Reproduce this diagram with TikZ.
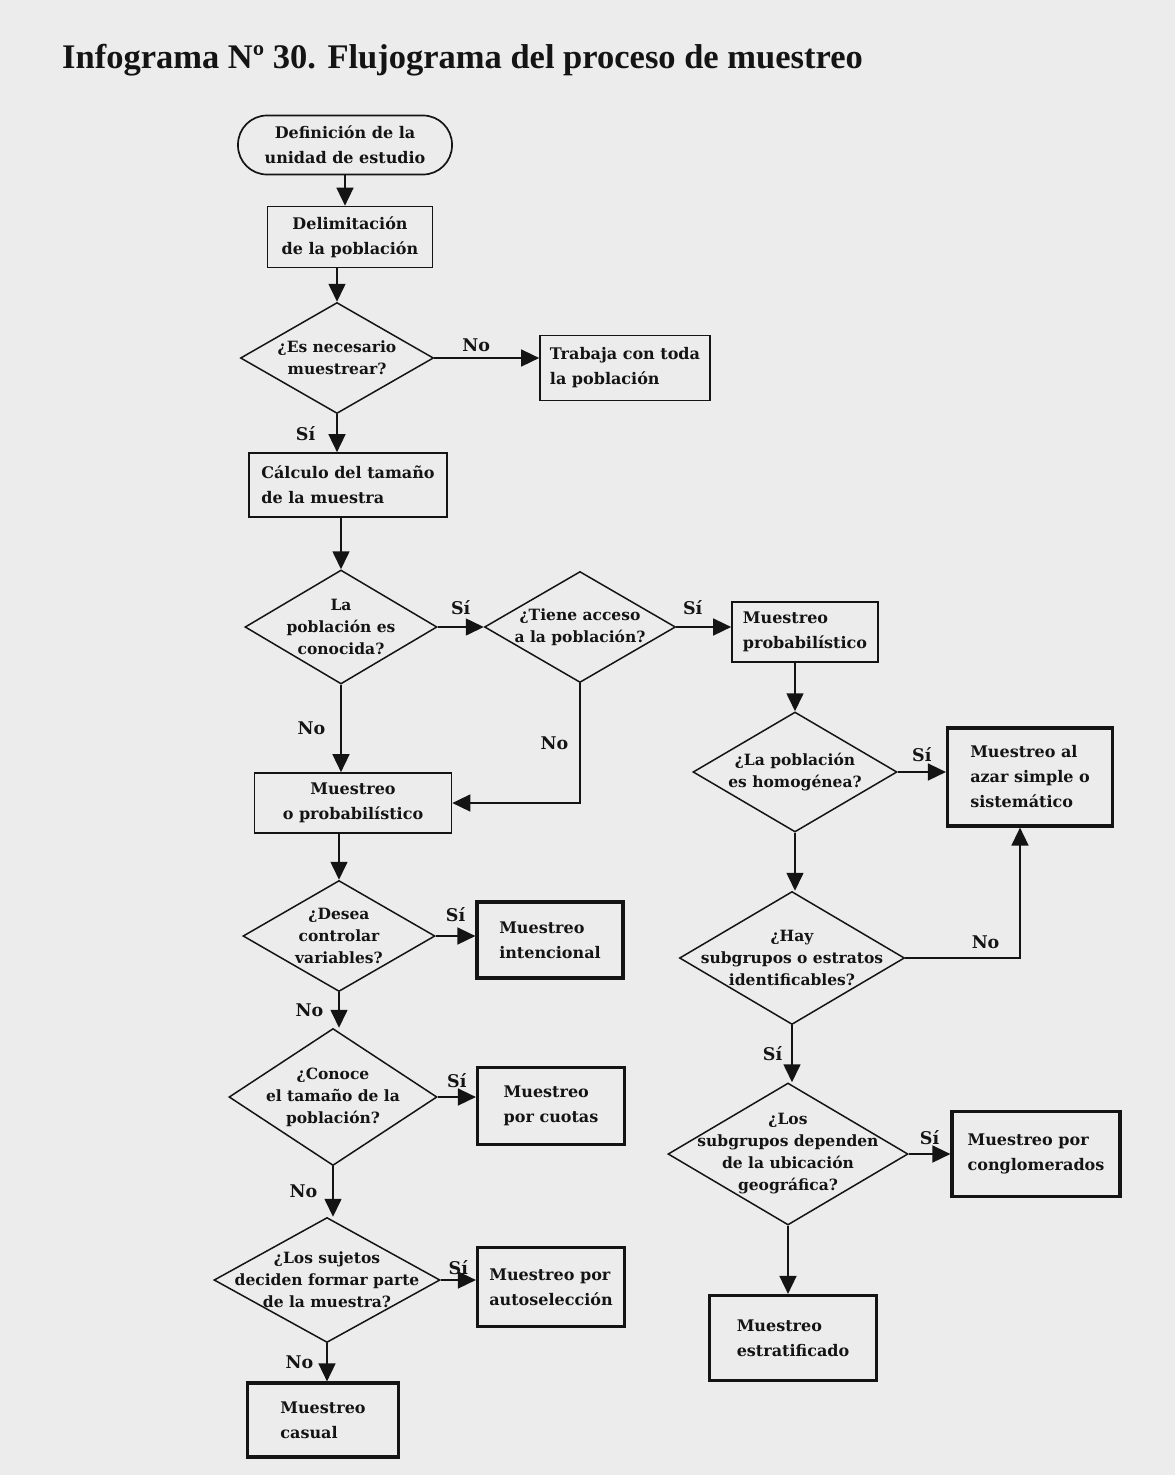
\documentclass[tikz,border=0pt]{standalone}
\usepackage{fontspec}
\setmainfont{Liberation Serif}
\newfontfamily\chartfont{DejaVu Serif}
\usetikzlibrary{arrows.meta,shapes.geometric}

\definecolor{paper}{RGB}{236,236,236}
\definecolor{ink}{RGB}{20,20,20}

\tikzset{
  box/.style={draw=ink, line width=1.7pt, align=center, inner sep=2pt, text=ink,
    font=\chartfont\bfseries\fontsize{16}{25}\selectfont},
  boxleft/.style={box, align=left},
  boxthick/.style={box, line width=3.2pt, align=left},
  startstop/.style={box, rounded corners=29pt},
  decision/.style={draw=ink, diamond, line width=1.5pt, inner sep=0pt},
  question/.style={align=center, inner sep=0pt, text=ink,
    font=\chartfont\bfseries\fontsize{15.5}{22}\selectfont},
  flow/.style={-{Triangle[length=18pt,width=17pt]}, line width=1.6pt, draw=ink},
  answer/.style={font=\chartfont\bfseries\fontsize{17.5}{20}\selectfont, text=ink, inner sep=3pt},
}

\begin{document}
\begin{tikzpicture}[x=1pt, y=-1pt]

    % Page
    \fill[paper] (0,0) rectangle (1175,1475);
    \useasboundingbox (0,0) rectangle (1175,1475);

    \node[font=\bfseries\fontsize{34.5}{38}\selectfont, text=ink, anchor=base west, inner sep=0pt]
        (titulo) at (62,68) {Infograma Nº 30. Flujograma del proceso de muestreo};

    % Left column
    \node[startstop, minimum width=214pt, minimum height=59pt] (unidad) at (345,145) {Definición de la\\unidad de estudio};
    \node[box, minimum width=165pt, minimum height=61pt]       (delim)  at (350,237) {Delimitación\\de la población};
    \node[decision, minimum width=193pt, minimum height=111pt,
          label={[question]center:¿Es necesario\\muestrear?}] (necesario) at (337,358) {};
    \node[boxleft, minimum width=170pt, minimum height=65pt]   (toda)   at (625,368) {Trabaja con toda\\la población};
    \node[boxleft, minimum width=198pt, minimum height=64pt]   (tamano) at (348,485) {Cálculo del tamaño\\de la muestra};
    \node[decision, minimum width=192pt, minimum height=114pt,
          label={[question]center:La\\población es\\conocida?}] (conocida) at (341,627) {};
    \node[decision, minimum width=191pt, minimum height=111pt,
          label={[question]center:¿Tiene acceso\\a la población?}] (acceso) at (580,627) {};
    \node[boxleft, minimum width=146pt, minimum height=60pt]   (prob)   at (805,632) {Muestreo\\probabilístico};
    \node[box, minimum width=197pt, minimum height=60pt]       (noprob) at (353,803) {Muestreo\\o probabilístico};

    % Non probability branch
    \node[decision, minimum width=192pt, minimum height=111pt,
          label={[question]center:¿Desea\\controlar\\variables?}] (controlar) at (339,936) {};
    \node[boxthick, minimum width=146pt, minimum height=76pt]  (intencional) at (550,940) {Muestreo\\intencional};
    \node[decision, minimum width=208pt, minimum height=137pt,
          label={[question]center:¿Conoce\\el tamaño de la\\población?}] (conoce) at (333,1097) {};
    \node[boxthick, minimum width=147pt, minimum height=77pt]  (cuotas) at (551,1106) {Muestreo\\por cuotas};
    \node[decision, minimum width=226pt, minimum height=125pt,
          label={[question]center:¿Los sujetos\\deciden formar parte\\de la muestra?}] (sujetos) at (327,1280) {};
    \node[boxthick, minimum width=147pt, minimum height=79pt]  (autosel) at (551,1287) {Muestreo por\\autoselección};
    \node[boxthick, minimum width=151pt, minimum height=74pt]  (casual) at (323,1420) {Muestreo\\casual};

    % Probability branch
    \node[decision, minimum width=204pt, minimum height=120pt,
          label={[question]center:¿La población\\es homogénea?}] (homog) at (795,772) {};
    \node[boxthick, minimum width=165pt, minimum height=98pt]  (azar) at (1030,777) {Muestreo al\\azar simple o\\sistemático};
    \node[decision, minimum width=225pt, minimum height=133pt,
          label={[question]center:¿Hay\\subgrupos o estratos\\identificables?}] (estratos) at (792,958) {};
    \node[decision, minimum width=240pt, minimum height=142pt,
          label={[question]center:¿Los\\subgrupos dependen\\de la ubicación\\geográfica?}] (ubicacion) at (788,1154) {};
    \node[boxthick, minimum width=168pt, minimum height=85pt]  (conglom) at (1036,1154) {Muestreo por\\conglomerados};
    \node[boxthick, minimum width=167pt, minimum height=85pt]  (estrat) at (793,1338) {Muestreo\\estratificado};

    % Connectors
    \draw[flow] (unidad.south) -- (unidad.south |- delim.north);
    \draw[flow] (necesario.north |- delim.south) -- (necesario.north);
    \draw[flow] (necesario.east) -- (necesario.east -| toda.west) node[answer, above=2pt, pos=0.4] {No};
    \draw[flow] (necesario.south) -- (necesario.south |- tamano.north) node[answer, left=18pt, midway] {Sí};
    \draw[flow] (conocida.north |- tamano.south) -- (conocida.north);
    \draw[flow] (conocida.east) -- (acceso.west) node[answer, above=8pt, midway] {Sí};
    \draw[flow] (acceso.east) -- (acceso.east -| prob.west) node[answer, above=8pt, pos=0.3] {Sí};
    \draw[flow] (conocida.south) -- (conocida.south |- noprob.north) node[answer, left=12pt, midway] {No};
    \draw[flow] (acceso.south) |- (noprob.east) node[answer, left=8pt, pos=0.25] {No};

    \draw[flow] (controlar.north |- noprob.south) -- (controlar.north);
    \draw[flow] (controlar.east) -- (controlar.east -| intencional.west) node[answer, above=10pt, midway] {Sí};
    \draw[flow] (controlar.south) -- (controlar.south |- conoce.north) node[answer, left=12pt, midway] {No};
    \draw[flow] (conoce.east) -- (conoce.east -| cuotas.west) node[answer, above=5pt, midway] {Sí};
    \draw[flow] (conoce.south) -- (conoce.south |- sujetos.north) node[answer, left=12pt, midway] {No};
    \draw[flow] (sujetos.east) -- (sujetos.east -| autosel.west) node[answer, above=1pt, midway] {Sí};
    \draw[flow] (sujetos.south) -- (sujetos.south |- casual.north) node[answer, left=10pt, midway] {No};

    \draw[flow] (homog.north |- prob.south) -- (homog.north);
    \draw[flow] (homog.east) -- (homog.east -| azar.west) node[answer, above=6pt, midway] {Sí};
    \draw[flow] (homog.south) -- (homog.south |- estratos.north);
    \draw[flow] (estratos.east) -| ([xshift=-10pt]azar.south) node[answer, above=5pt, pos=0.35] {No};
    \draw[flow] (estratos.south) -- (estratos.south |- ubicacion.north) node[answer, left=6pt, midway] {Sí};
    \draw[flow] (ubicacion.east) -- (ubicacion.east -| conglom.west) node[answer, above=5pt, midway] {Sí};
    \draw[flow] (ubicacion.south) -- (ubicacion.south |- estrat.north);

\end{tikzpicture}
\end{document}
